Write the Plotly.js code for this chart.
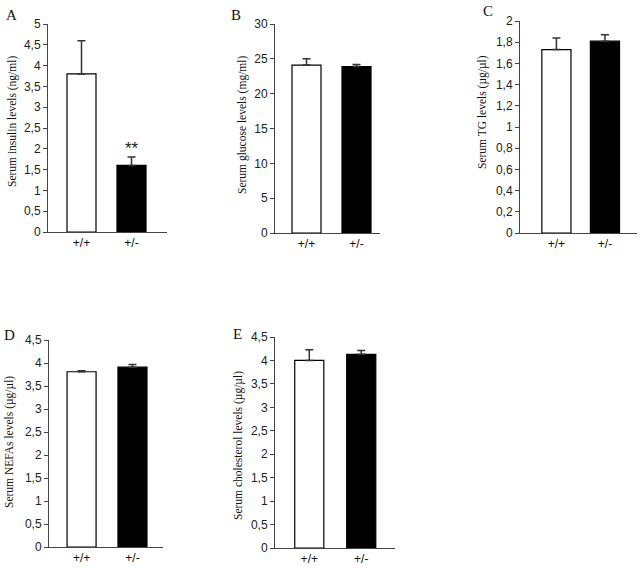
<!DOCTYPE html>
<html>
<head>
<meta charset="utf-8">
<script src="https://cdn.plot.ly/plotly-3.0.1.min.js"></script>
<style>html,body{margin:0;padding:0;background:#fff}#chart{width:644px;height:570px}</style>
</head>
<body>
<div id="chart"></div>
<script>
const categories = ["+/+", "+/-"];
const insulin = [3.8, 1.6];
const insulinErr = [0.8, 0.2];
const glucose = [24.1, 23.9];
const glucoseErr = [0.9, 0.3];
const tg = [1.73, 1.81];
const tgErr = [0.11, 0.06];
const nefa = [3.81, 3.91];
const nefaErr = [0.02, 0.06];
const chol = [4.0, 4.13];
const cholErr = [0.23, 0.08];

const panelLetters = ["A", "B", "C", "D", "E"];
const yTitles = [
  "Serum insulin levels (ng/ml)",
  "Serum glucose levels (mg/ml)",
  "Serum TG levels (µg/µl)",
  "Serum NEFAs levels (µg/µl)",
  "Serum cholesterol levels (µg/µl)"
];
const yMax = [5, 30, 2, 4.5, 4.5];
const yDtick = [0.5, 5, 0.2, 0.5, 0.5];

const W = 644, H = 570;
// pixel geometry of each panel: [axisLeft, axisRight, yTopPx, yZeroPx, xRangeLo, xRangeHi, barWidth]
const geo = [
  [48, 167, 24, 232, -0.67, 1.71, 0.58],
  [275, 380, 24, 233, -0.63, 1.47, 0.58],
  [520, 637, 21, 233, -0.75, 1.66, 0.60],
  [49, 163, 340, 547, -0.64, 1.60, 0.57],
  [275, 395, 337, 548, -0.66, 1.65, 0.56]
];
const letterPos = [[11, 15], [236, 15], [488, 11], [9, 335], [238, 334]];
const titlePos = [[12, 122], [242, 125], [483, 112], [9, 442], [238, 445]];

const series = [[insulin, insulinErr], [glucose, glucoseErr], [tg, tgErr], [nefa, nefaErr], [chol, cholErr]];

const sans = "Liberation Sans, Arial, sans-serif";
const serif = "Liberation Serif, Times New Roman, serif";

const data = [];
const layout = {
  width: W, height: H,
  margin: {l: 0, r: 0, t: 0, b: 0},
  paper_bgcolor: "#fff", plot_bgcolor: "rgba(0,0,0,0)",
  showlegend: false,
  separators: ",.",
  font: {family: sans, size: 12, color: "#222"},
  annotations: []
};

series.forEach((s, i) => {
  const n = i + 1;
  const g = geo[i];
  const xa = n === 1 ? "x" : "x" + n;
  const ya = n === 1 ? "y" : "y" + n;
  data.push({
    type: "bar",
    x: categories,
    y: s[0],
    width: g[6],
    xaxis: xa, yaxis: ya,
    marker: {color: ["#ffffff", "#000000"], line: {color: "#000", width: 1.2}},
    error_y: {type: "data", array: s[1], symmetric: false, arrayminus: [0, 0], color: "#333", thickness: 1.5, width: 4},
    hoverinfo: "skip"
  });
  const xk = n === 1 ? "xaxis" : "xaxis" + n;
  const yk = n === 1 ? "yaxis" : "yaxis" + n;
  layout[xk] = {
    domain: [g[0] / W, g[1] / W],
    anchor: ya,
    type: "category",
    range: [g[4], g[5]],
    showline: true, linecolor: "#444", linewidth: 1,
    ticks: "", showgrid: false, zeroline: false,
    tickfont: {family: sans, size: 12, color: "#111"},
    fixedrange: true
  };
  layout[yk] = {
    domain: [1 - g[3] / H, 1 - g[2] / H],
    anchor: xa,
    range: [0, yMax[i]],
    dtick: yDtick[i], tick0: 0,
    showline: true, linecolor: "#444", linewidth: 1,
    ticks: "outside", ticklen: 4, tickcolor: "#444",
    showgrid: false, zeroline: false,
    tickfont: {family: sans, size: 12, color: "#222"},
    fixedrange: true
  };
  layout.annotations.push({
    xref: "paper", yref: "paper",
    x: letterPos[i][0] / W, y: 1 - letterPos[i][1] / H,
    text: panelLetters[i], showarrow: false,
    xanchor: "center", yanchor: "middle",
    font: {family: serif, size: 15, color: "#111"}
  });
  layout.annotations.push({
    xref: "paper", yref: "paper",
    x: titlePos[i][0] / W, y: 1 - titlePos[i][1] / H,
    text: yTitles[i], showarrow: false, textangle: -90,
    xanchor: "center", yanchor: "middle",
    font: {family: serif, size: 11.5, color: "#111"}
  });
});

layout.annotations.push({
  xref: "x", yref: "y",
  x: categories[1], y: insulin[1] + insulinErr[1],
  text: "**", showarrow: false, yanchor: "bottom", yshift: -3,
  font: {family: sans, size: 17, color: "#222"}
});

Plotly.newPlot("chart", data, layout, {staticPlot: true});
</script>
</body>
</html>
